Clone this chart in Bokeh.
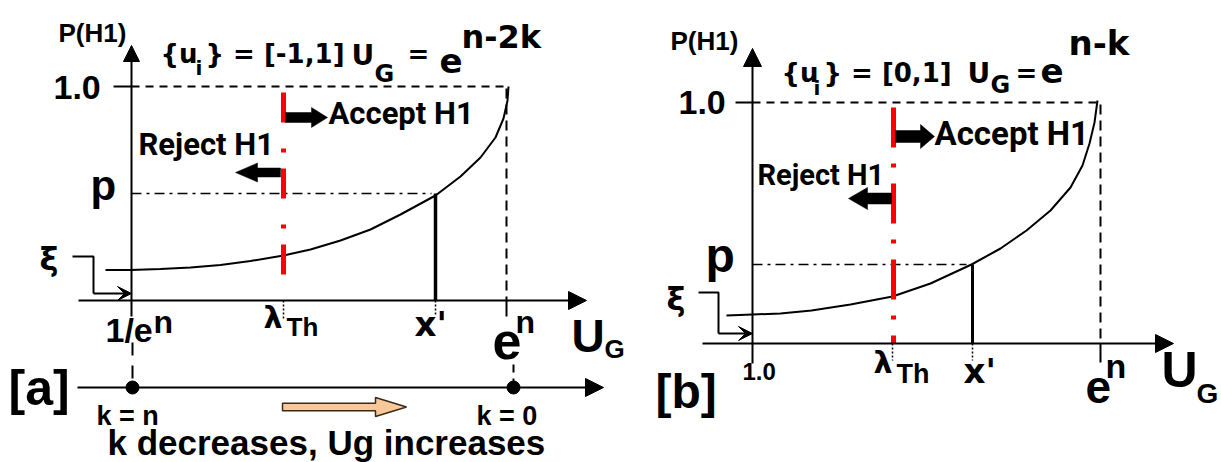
from bokeh.plotting import figure
from bokeh.models import Range1d, Arrow, NormalHead, VeeHead
from bokeh.core.properties import value
from bokeh.embed import file_html
from bokeh.resources import INLINE

# ---------------- data (picture coordinates, px) ----------------
# panel [a]: P(H1) curve for U_G = e^(n-2k)
a_curve_x = [105, 130, 160, 190, 220, 250, 283, 310, 340, 370, 400, 435, 460, 480, 495, 503, 507, 508]
a_curve_y = [269.5, 269.5, 268.5, 267, 264.5, 260.5, 255, 249, 240, 229, 214, 195, 176, 157, 137, 118, 100, 86]
# panel [b]: P(H1) curve for U_G = e^(n-k)
b_curve_x = [726, 752, 780, 811, 850, 892, 930, 971, 1000, 1026, 1050, 1070, 1082, 1089, 1094, 1097]
b_curve_y = [315, 314, 313, 310, 304, 296, 283, 264, 248, 230, 210, 187, 165, 143, 122, 100]

# key positions: [y-axis x, x-axis y, level 1.0, level p, lambda_Th, x', e^n]
a_keys = [131, 300, 86, 193, 283, 435, 506]
b_keys = [752, 343, 102, 264, 892, 972, 1100]

# k-scale under panel [a]: marker positions and labels
k_marks_x = [132, 513]
k_marks_label = ["k = n", "k = 0"]

W, H = 1221, 462
p = figure(width=W, height=H, x_range=Range1d(0, W), y_range=Range1d(H, 0),
           output_backend="svg", toolbar_location=None, x_axis_type=None, y_axis_type=None,
           min_border=0)
p.outline_line_color = None
p.background_fill_color = "white"
p.border_fill_color = "white"

BLACK = "black"
RED = "#FF0000"
NARROW = "Roboto"
BASE_SHIFT = 0.36   # renderer places alphabetic baseline this many ems below y


def txt(x, y, s, size, font="Liberation Sans", style="bold", color=BLACK, align="left"):
    p.text(x=[x], y=[y - BASE_SHIFT * size], text=[s], text_font=value(font),
           text_font_size=f"{size}px", text_font_style=style, text_color=color,
           text_align=align, text_baseline="alphabetic")


def seg(x0, y0, x1, y1, width=2, dash="solid", color=BLACK):
    p.line([x0, x1], [y0, y1], line_width=width, line_dash=dash, line_color=color)


def arrow(x0, y0, x1, y1, size=18, head="normal", width=2):
    h = NormalHead(size=size, fill_color=BLACK, line_color=BLACK) if head == "normal" else \
        VeeHead(size=size, fill_color=BLACK, line_color=BLACK)
    p.add_layout(Arrow(end=h, x_start=x0, y_start=y0, x_end=x1, y_end=y1,
                       line_width=width, line_color=BLACK))


def block_arrow(x_tail, x_base, x_tip, yc, shaft_h, head_h, fill=BLACK, line=BLACK, lw=0.5):
    xs = [x_tail, x_base, x_base, x_tip, x_base, x_base, x_tail]
    ys = [yc - shaft_h / 2, yc - shaft_h / 2, yc - head_h / 2, yc, yc + head_h / 2,
          yc + shaft_h / 2, yc + shaft_h / 2]
    p.patch(xs, ys, fill_color=fill, line_color=line, line_width=lw)


# ================= panel [a] =================
ax, ay, top, pl, lam, xp, en = a_keys
arrow(ax, ay + 16, ax, 45, size=16)                   # y axis
arrow(78, ay, 586, ay, size=18)                       # x axis
seg(113, top, ax, top)                                # 1.0 tick
seg(ax, top, 504, top, dash="8 6")
seg(en, top + 2, en, ay, dash="10 6")
seg(en, ay, en, ay + 16)
seg(ax, pl, xp - 4, pl, width=1.5, dash="10 5 3 5")
seg(xp, pl, xp, ay, width=3.5)
seg(lam, ay, lam, ay + 18, width=1.5, dash="2 2")
seg(xp, ay, xp, ay + 16, width=1.5, dash="2 2")
p.line(a_curve_x, a_curve_y, line_width=2, line_color=BLACK)
seg(lam, 92, lam, 284, width=5, dash="30 26 4 16", color=RED)
block_arrow(285, 311, 327, 117, 10, 20)              # accept
block_arrow(280, 257, 235, 172, 9, 19)               # reject
p.line([72, 93, 93], [256, 256, 293], line_width=2, line_color=BLACK)
arrow(93, 293, ax, 293, size=14, head="vee")

txt(58, 42, "P(H1)", 26)
txt(160, 63, "{u", 26, font="DejaVu Sans")
txt(195, 75, "i", 20, font="DejaVu Sans")
txt(205, 63, "} = [-1,1]", 26, font="DejaVu Sans")
txt(351, 65, "U", 28, font="DejaVu Sans")
txt(374, 82, "G", 24, font="DejaVu Sans")
txt(407, 63, "=", 26, font="DejaVu Sans")
txt(439, 72, "e", 34, font="DejaVu Sans")
txt(461, 48, "n-2k", 32, font="DejaVu Sans")
txt(53, 99, "1.0", 34)
txt(328, 124, "Accept H1", 31, font=NARROW)
txt(138, 155, "Reject H1", 31, font=NARROW)
txt(90, 200, "p", 42)
txt(39, 270, "ξ", 32, font="DejaVu Sans")
txt(105, 342, "1/e", 34)
txt(153, 333, "n", 32)
txt(263, 328, "λ", 30, font="DejaVu Sans")
txt(286, 336, "Th", 26)
txt(414, 336, "x'", 34, font="DejaVu Sans")
txt(492, 359, "e", 52)
txt(515, 333, "n", 32)
txt(571, 352, "U", 46)
txt(604, 358, "G", 26)

# k scale
arrow(77, 387, 603, 387, size=18)
seg(k_marks_x[0], 342, k_marks_x[0], 380, dash="13 10")
seg(k_marks_x[1], 364, k_marks_x[1], 381, dash="8 6")
p.scatter(k_marks_x, [387, 387], size=13, fill_color=BLACK, line_color=BLACK)
txt(8, 405, "[a]", 50)
txt(96, 425, k_marks_label[0], 27)
txt(476, 425, k_marks_label[1], 27)
block_arrow(282, 375, 406, 406.5, 7.5, 19, fill="#F9C89A", line="#3a2a1a", lw=1.5)
txt(107, 455, "k  decreases, Ug increases", 35)

# ================= panel [b] =================
ax, ay, top, pl, lam, xp, en = b_keys
arrow(ax, ay + 20, ax, 48, size=18)
arrow(702, ay, 1173, ay, size=18)
seg(735, top, ax, top)
seg(ax, top, 1098, top, dash="8 6")
seg(en, top + 2, en, ay, dash="10 6")
seg(en, ay, en, ay + 19)
seg(ax, pl, xp - 6, pl, width=1.5, dash="10 5 3 5")
seg(xp, pl, xp, ay, width=3)
seg(lam, ay, lam, ay + 17, width=1.5, dash="2 2")
seg(xp, ay, xp, ay + 17, width=1.5, dash="2 2")
p.line(b_curve_x, b_curve_y, line_width=2, line_color=BLACK)
seg(lam + 1, 107, lam + 1, ay, width=5, dash="40 16 4 16", color=RED)
block_arrow(895, 920, 934, 136, 12, 24)
block_arrow(891, 867, 848, 198, 11, 22)
p.line([698, 718, 718], [292, 292, 333], line_width=2, line_color=BLACK)
arrow(718, 333, ax, 333, size=14, head="vee")

txt(670, 50, "P(H1)", 26)
txt(781, 82, "{u", 26, font="DejaVu Sans")
txt(813, 95, "i", 20, font="DejaVu Sans")
txt(823, 82, "} = [0,1]", 26, font="DejaVu Sans")
txt(967, 83, "U", 28, font="DejaVu Sans")
txt(990, 93, "G", 24, font="DejaVu Sans")
txt(1015, 82, "=", 26, font="DejaVu Sans")
txt(1040, 82, "e", 34, font="DejaVu Sans")
txt(1068, 55, "n-k", 34, font="DejaVu Sans")
txt(678, 114, "1.0", 34)
txt(934, 145, "Accept H1", 33, font=NARROW)
txt(757, 185, "Reject H1", 29, font=NARROW)
txt(705, 272, "p", 48)
txt(666, 310, "ξ", 32, font="DejaVu Sans")
txt(742, 380, "1.0", 24)
txt(873, 373, "λ", 30, font="DejaVu Sans")
txt(896, 383, "Th", 27)
txt(963, 383, "x'", 34, font="DejaVu Sans")
txt(1085, 403, "e", 46)
txt(1105, 378, "n", 34)
txt(1161, 387, "U", 50)
txt(1196, 403, "G", 28)
txt(655, 408, "[b]", 48)

open("out.html", "w").write(file_html(p, INLINE))
